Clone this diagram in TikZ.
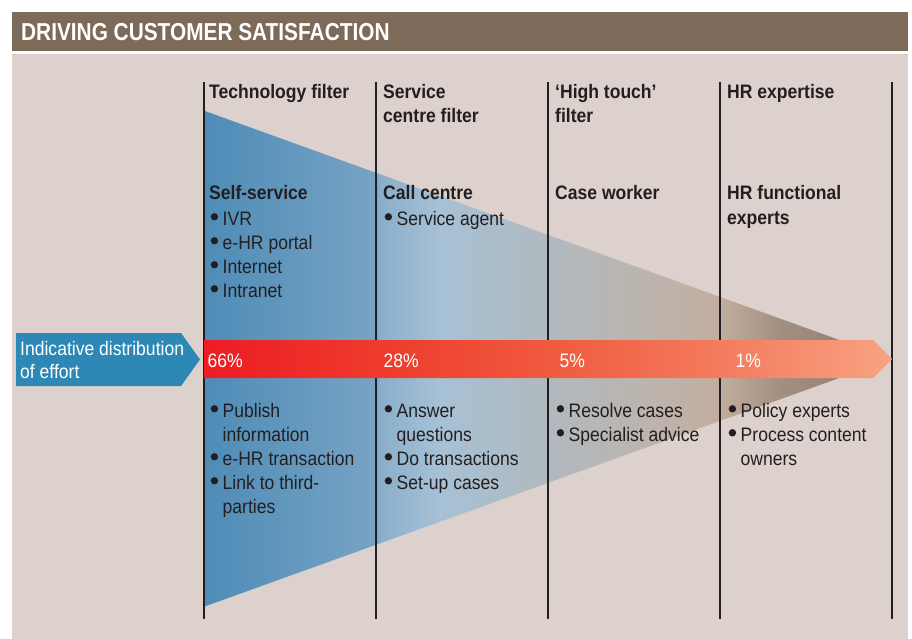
\documentclass[tikz,border=0pt]{standalone}
\usepackage{fontspec}
\setmainfont{Liberation Sans}[FakeStretch=0.9]
\newfontfamily\titlefont{Liberation Sans}[FakeStretch=0.85]

% palette
\definecolor{ink}{HTML}{231F20}
\definecolor{panel}{HTML}{DCD1CC}
\definecolor{banner}{HTML}{7E6A59}
\definecolor{labelblue}{HTML}{2E88B6}
% funnel: blue service end fading to brown expertise end
\definecolor{f1}{HTML}{4E8CB7}
\definecolor{f2}{HTML}{78A3C4}
\definecolor{f3}{HTML}{8AAFCB}
\definecolor{f4}{HTML}{A7C1D5}
\definecolor{f5}{HTML}{B1B9BF}
\definecolor{f6}{HTML}{BDB4AD}
\definecolor{f7}{HTML}{C1AE9F}
\definecolor{f8}{HTML}{A38F7F}
\definecolor{f9}{HTML}{8B7969}
% effort bar: red to salmon
\definecolor{r1}{HTML}{ED1C24}
\definecolor{r2}{HTML}{EE3A2C}
\definecolor{r3}{HTML}{F05A3E}
\definecolor{r4}{HTML}{F47B5E}
\definecolor{r5}{HTML}{F8A282}

\pgfdeclarehorizontalshading{funnel}{100bp}{color(0bp)=(f1); color(25bp)=(f1);
  color(37.5bp)=(f2); color(37.8bp)=(f3); color(42.2bp)=(f4); color(50bp)=(f5);
  color(57.4bp)=(f6); color(62.5bp)=(f7); color(66.9bp)=(f8); color(75bp)=(f9);
  color(100bp)=(f9)}
\pgfdeclarehorizontalshading{effort}{100bp}{color(0bp)=(r1); color(25bp)=(r1);
  color(37.5bp)=(r2); color(50bp)=(r3); color(62.5bp)=(r4); color(75bp)=(r5);
  color(100bp)=(r5)}

\newcommand{\dbody}{\fontsize{19.5pt}{24pt}\selectfont}

\tikzset{
  bodytxt/.style={anchor=base west, inner sep=0pt, text=ink, font=\dbody},
  headtxt/.style={bodytxt, font=\dbody\bfseries},
  pcttxt/.style={anchor=base west, inner sep=0pt, text=white, font=\dbody},
  colrule/.style={draw=ink, line width=2.2pt},
  dot/.style={circle, fill=ink, inner sep=0pt, minimum size=7.4pt},
}

% bullet line: name, column x, baseline, text
\newcommand{\bitem}[4]{%
  \node[dot] (#1dot) at (#2+4.4,#3-8.2) {};
  \node[bodytxt] (#1) at (#2+12.5,#3) {#4};}
% continuation line of a bullet
\newcommand{\bcont}[4]{\node[bodytxt] (#1) at (#2+12.5,#3) {#4};}

\begin{document}
\begin{tikzpicture}[x=1pt,y=-1pt]
\useasboundingbox (0,0) rectangle (912,639);
\fill[white] (0,0) rectangle (912,639);

% banner and panel
\fill[banner] (12,12) rectangle (908,51);
\fill[panel] (12,54) rectangle (908,639);
\node[anchor=base west, inner sep=0pt, text=white,
      font=\titlefont\bfseries\fontsize{24.5pt}{28pt}\selectfont] (title) at (21,41)
      {DRIVING CUSTOMER SATISFACTION};

% funnel
\coordinate (ftop) at (204,110.7);
\coordinate (fbot) at (204,606.7);
\coordinate (fapex) at (892,359);
\shade[shading=funnel] (ftop) -- (fapex) -- (fbot) -- cycle;

% column rules
\foreach \x/\n in {204/a,376/b,548/c,720/d,892/e}
  \draw[colrule] (\x,82) coordinate (rule\n top) -- (\x,619) coordinate (rule\n bot);

% effort bar
\shade[shading=effort] (204,340) -- (873,340) -- (892,359) -- (873,378) -- (204,378) -- cycle;

% label arrow
\fill[labelblue] (16,333) -- (181,333) -- (200,359.5) -- (181,386) -- (16,386) -- cycle;
\node[pcttxt] (lbl1) at (20,355) {Indicative distribution};
\node[pcttxt] (lbl2) at (20,378.5) {of effort};

% percentages
\node[pcttxt] (p1) at (207.5,367) {66\%};
\node[pcttxt] (p2) at (383.5,367) {28\%};
\node[pcttxt] (p3) at (559.5,367) {5\%};
\node[pcttxt] (p4) at (735.5,367) {1\%};

% column headings
\node[headtxt] (h1) at (209,99) {Technology filter};
\node[headtxt] (h2a) at (383,99) {Service};
\node[headtxt] (h2b) at (383,123) {centre filter};
\node[headtxt] (h3a) at (555,99) {‘High touch’};
\node[headtxt] (h3b) at (555,123) {filter};
\node[headtxt] (h4) at (727,99) {HR expertise};

% channel headings
\node[headtxt] (s1) at (209,200) {Self-service};
\node[headtxt] (s2) at (383,200) {Call centre};
\node[headtxt] (s3) at (555,200) {Case worker};
\node[headtxt] (s4a) at (727,200) {HR functional};
\node[headtxt] (s4b) at (727,224) {experts};

% channels
\bitem{ta}{210}{225}{IVR}
\bitem{tb}{210}{249}{e-HR portal}
\bitem{tc}{210}{273}{Internet}
\bitem{td}{210}{297}{Intranet}
\bitem{ua}{384}{225}{Service agent}

% activities
\bitem{aa}{210}{417}{Publish}
\bcont{ab}{210}{441}{information}
\bitem{ac}{210}{465}{e-HR transaction}
\bitem{ad}{210}{489}{Link to third-}
\bcont{ae}{210}{513}{parties}

\bitem{ba}{384}{417}{Answer}
\bcont{bb}{384}{441}{questions}
\bitem{bc}{384}{465}{Do transactions}
\bitem{bd}{384}{489}{Set-up cases}

\bitem{ca}{556}{417}{Resolve cases}
\bitem{cb}{556}{441}{Specialist advice}

\bitem{da}{728}{417}{Policy experts}
\bitem{db}{728}{441}{Process content}
\bcont{dc}{728}{465}{owners}
\end{tikzpicture}
\end{document}
